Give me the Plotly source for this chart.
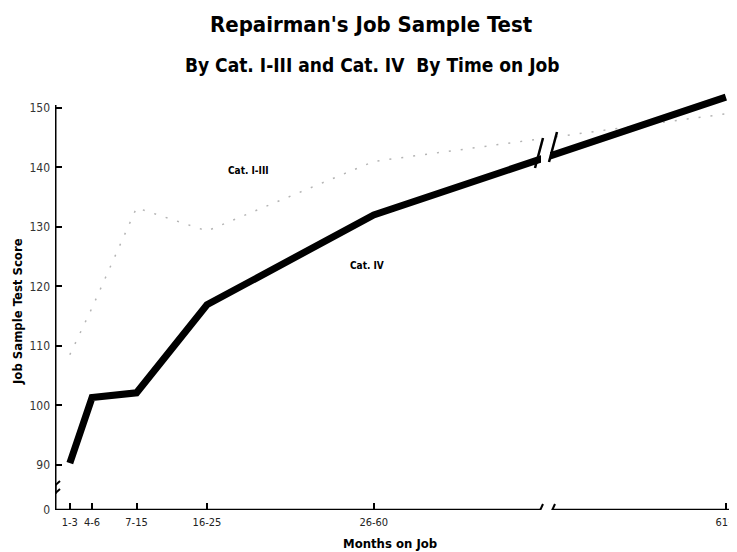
import plotly.graph_objects as go

# ---- data ----
time_groups = ["1-3", "4-6", "7-15", "16-25", "26-60", "61+"]
month_mid = [2, 5, 11, 20.5, 43, 90.5]          # mid-point of each period (61+ drawn after axis break)
cat_1_3 = [108.5, 116.4, 133.2, 129.3, 141.0, 149.0]
cat_4 = [90.3, 101.3, 102.1, 116.9, 132.0, 151.8]
y_ticks = [90, 100, 110, 120, 130, 140, 150]

# ---- layout geometry (page body has an 8px margin) ----
OFF = 8
W, H = 737 - OFF, 552 - OFF
L, R, T, B = 55 - OFF, 0, 93 - OFF, 42
X0, X1 = 0, 92
Y0, Y1 = 82.4, 152.5
PW, PH = W - L - R, H - T - B
PLOT_LEFT, PLOT_BOTTOM = 55, 510   # in window pixels

def px_x(px):
    return X0 + (px - PLOT_LEFT) / PW * (X1 - X0)

def px_y(py):
    return Y0 + (PLOT_BOTTOM - py) / PH * (Y1 - Y0)

def pp_x(px):
    return (px - PLOT_LEFT) / PW

def pp_y(py):
    return (PLOT_BOTTOM - py) / PH

FONT = "DejaVu Sans Condensed, Liberation Sans Narrow, Arial Narrow, sans-serif"

fig = go.Figure()
fig.add_trace(go.Scatter(x=month_mid, y=cat_1_3, mode="lines", name="Cat. I-III",
                         line=dict(color="#b4b4b4", width=1.5, dash="2px,10px")))
fig.add_trace(go.Scatter(x=month_mid, y=cat_4, mode="lines", name="Cat. IV",
                         line=dict(color="black", width=7)))

shapes = []
# y axis line with break
shapes.append(dict(type="line", xref="x", yref="y", x0=0, x1=0, y0=Y0, y1=px_y(484), line=dict(color="black", width=3)))
shapes.append(dict(type="line", xref="x", yref="y", x0=0, x1=0, y0=px_y(494), y1=px_y(105), line=dict(color="black", width=3)))
shapes.append(dict(type="line", xref="x", yref="y", x0=px_x(50), x1=px_x(60), y0=px_y(490), y1=px_y(481), line=dict(color="black", width=2)))
shapes.append(dict(type="line", xref="x", yref="y", x0=px_x(50), x1=px_x(60), y0=px_y(498), y1=px_y(489), line=dict(color="black", width=2)))
# x axis line with break
shapes.append(dict(type="line", xref="x", yref="y", x0=0, x1=px_x(540), y0=Y0, y1=Y0, line=dict(color="black", width=2.5)))
shapes.append(dict(type="line", xref="x", yref="y", x0=px_x(552), x1=X1, y0=Y0, y1=Y0, line=dict(color="black", width=2.5)))
shapes.append(dict(type="line", xref="x", yref="y", x0=px_x(537), x1=px_x(543), y0=px_y(517), y1=px_y(504), line=dict(color="black", width=2)))
shapes.append(dict(type="line", xref="x", yref="y", x0=px_x(549), x1=px_x(555), y0=px_y(517), y1=px_y(504), line=dict(color="black", width=2)))
# break in the data line
shapes.append(dict(type="rect", xref="x", yref="y", x0=px_x(541), x1=px_x(550), y0=px_y(172), y1=px_y(130),
                   fillcolor="white", line=dict(width=0), layer="above"))
shapes.append(dict(type="line", xref="x", yref="y", x0=px_x(535), x1=px_x(543), y0=px_y(168), y1=px_y(138), line=dict(color="black", width=2.5)))
shapes.append(dict(type="line", xref="x", yref="y", x0=px_x(549), x1=px_x(557), y0=px_y(162), y1=px_y(132), line=dict(color="black", width=2.5)))

def label(text, px, py, size, angle=0):
    return dict(text=text, x=pp_x(px), y=pp_y(py), xref="paper", yref="paper", textangle=angle,
                showarrow=False, font=dict(family=FONT, size=size, color="black"),
                xanchor="center", yanchor="middle")

ann = [
    label("<b>Repairman's Job Sample Test</b>", 371, 25, 22),
    label("<b>By Cat. I-III and Cat. IV  By Time on Job</b>", 372, 65, 19),
    label("<b>Job Sample Test Score</b>", 17, 312, 13, -90),
    label("<b>Months on Job</b>", 390, 543, 13),
    label("<b>Cat. I-III</b>", 248, 170, 10),
    label("<b>Cat. IV</b>", 367, 265, 10),
]

fig.update_layout(
    width=W, height=H, margin=dict(l=L, r=R, t=T, b=B),
    paper_bgcolor="white", plot_bgcolor="white", showlegend=False,
    shapes=shapes, annotations=ann,
    font=dict(family=FONT, color="#222"),
    xaxis=dict(range=[X0, X1], showgrid=False, zeroline=False, showline=False,
               tickmode="array", tickvals=month_mid, ticktext=time_groups,
               ticks="inside", ticklen=7, tickwidth=2, tickcolor="black", ticklabelstandoff=4,
               tickfont=dict(size=11, color="#222", family=FONT)),
    yaxis=dict(range=[Y0, Y1], showgrid=False, zeroline=False, showline=False,
               tickmode="array", tickvals=[Y0] + y_ticks, ticktext=["0"] + [str(v) for v in y_ticks],
               ticks="inside", ticklen=7, tickwidth=2, tickcolor="black", ticklabelstandoff=4,
               tickfont=dict(size=12, color="#333", family=FONT)),
)

fig.write_html("out.html")
